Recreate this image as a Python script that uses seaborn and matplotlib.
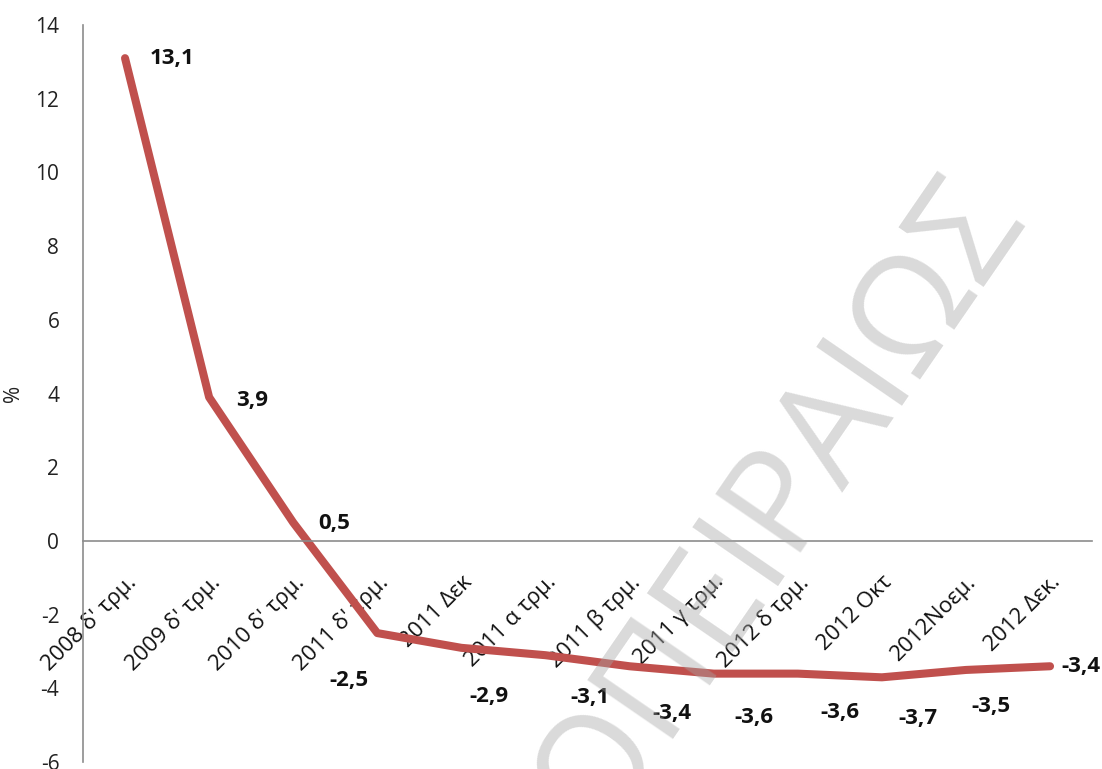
import matplotlib
matplotlib.use("Agg")
import matplotlib.pyplot as plt
import seaborn as sns
import pandas as pd

periods = ["2008 δ' τρμ.", "2009 δ' τρμ.", "2010 δ' τρμ.", "2011 δ' τρμ.",
           "2011 Δεκ", "2011 α τρμ.", "2011 β τρμ.", "2011 γ τρμ.",
           "2012 δ τρμ.", "2012 Οκτ", "2012Νοεμ.", "2012 Δεκ."]
change_pct = [13.1, 3.9, 0.5, -2.5, -2.9, -3.1, -3.4, -3.6, -3.6, -3.7, -3.5, -3.4]

# label offsets in pixels (dx, dy) relative to each point
label_offsets = [(47, 0), (43, -3), (41, -1), (-28, -47), (28, -49), (44, -42),
                 (42, -47), (40, -44), (42, -39), (36, -41), (25, -37), (31, 0)]

sns.set_theme(style="white")
plt.rcParams['font.family'] = ['Open Sans', 'DejaVu Sans']

df = pd.DataFrame({"pos": range(len(periods)), "value": change_pct})

fig = plt.figure(figsize=(11.02, 7.69), dpi=100)
ax = fig.add_axes([0.0753, 0.009, 0.9157, 0.9585])

sns.lineplot(data=df, x="pos", y="value", ax=ax, color="#C0504D",
             linewidth=5.8, solid_capstyle="round", solid_joinstyle="round")

# spine placement first: moving a spine resets the tick objects
for side in ["top", "right"]:
    ax.spines[side].set_visible(False)
ax.spines["bottom"].set_position(("data", 0))
for side in ["bottom", "left"]:
    ax.spines[side].set_color("#8C8C8C")
    ax.spines[side].set_linewidth(1.2)

ax.set_xlim(-0.5, len(periods) - 0.5)
ax.set_ylim(-6, 14)
ax.set_yticks(range(-6, 15, 2))
ax.set_yticklabels([str(v) for v in range(-6, 15, 2)], fontsize=15, color="#222222")
ax.set_xticks(range(len(periods)))
ax.set_xticklabels(periods, rotation=45, ha="right", va="top",
                   rotation_mode="anchor", fontsize=16, color="#111111")
ax.tick_params(axis="both", length=0)
ax.tick_params(axis="x", pad=22)
ax.tick_params(axis="y", pad=17)

ax.set_xlabel("")
ax.set_ylabel("%", fontsize=15, color="#222222")
ax.yaxis.set_label_coords(-0.058, 0.5)

for i, (v, (dx, dy)) in enumerate(zip(change_pct, label_offsets)):
    ax.annotate(f"{v:.1f}".replace(".", ","), (i, v), xytext=(dx, dy),
                textcoords="offset pixels", ha="center", va="center",
                fontsize=16, fontweight="bold", color="#111111",
                annotation_clip=False)

fig.text(0.708, 0.344, "ΟΠΕΙΡΑΙΩΣ", rotation=55.5, ha="center", va="center",
         rotation_mode="anchor", fontsize=104, fontweight="normal",
         color="#A6A6A6", alpha=0.42, zorder=10)

fig.savefig("out.png", dpi=100)
